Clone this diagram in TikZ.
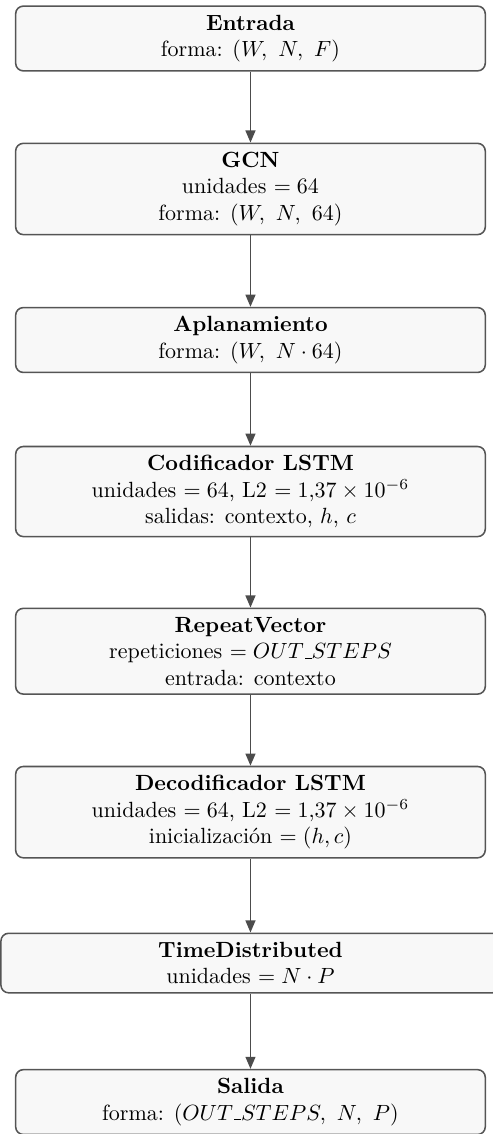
\documentclass[tikz,border=0pt]{standalone}
\usepackage{fontspec}
\usetikzlibrary{arrows.meta}
\definecolor{boxfill}{HTML}{F8F8F8}
\definecolor{boxline}{HTML}{555555}
\newcommand{\usc}{\mbox{\kern.06em\vbox{\hrule width.3em}}}
\begin{document}
\begin{tikzpicture}[
        layer/.style={draw=boxline, fill=boxfill, line width=0.7pt, rounded corners=3.5pt,
            align=center, minimum width=7.5cm, inner sep=4pt},
        flow/.style={draw=boxline!90!black, line width=0.7pt, -{Triangle[length=5.5pt, width=4.5pt]}}
    ]
        \useasboundingbox (-4.0, 0) rectangle (3.873, -18.11);

        \node (entrada) at (0, -0.615) [layer] {\textbf{Entrada}\\ forma: $(W,\ N,\ F)$};
        \node (gcn) at (0, -3.018) [layer] {\textbf{GCN}\\ unidades $= 64$\\ forma: $(W,\ N,\ 64)$};
        \node (aplan) at (0, -5.43) [layer] {\textbf{Aplanamiento}\\ forma: $(W,\ N \cdot 64)$};
        \node (enc) at (0, -7.85) [layer] {\textbf{Codificador LSTM}\\ unidades $= 64$, L2 $= 1{,}37 \times 10^{-6}$\\ salidas: contexto, $h$, $c$};
        \node (rep) at (0, -10.40) [layer] {\textbf{RepeatVector}\\ repeticiones $= OUT\usc STEPS$\\ entrada: contexto};
        \node (dec) at (0, -12.97) [layer] {\textbf{Decodificador LSTM}\\ unidades $= 64$, L2 $= 1{,}37 \times 10^{-6}$\\ inicialización $= (h, c)$};
        \node (td) at (0, -15.38) [layer, minimum width=7.97cm] {\textbf{TimeDistributed}\\ unidades $= N \cdot P$};
        \node (salida) at (0, -17.60) [layer] {\textbf{Salida}\\ forma: $(OUT\usc STEPS,\ N,\ P)$};

        \draw[flow] (entrada) -- (gcn);
        \draw[flow] (gcn) -- (aplan);
        \draw[flow] (aplan) -- (enc);
        \draw[flow] (enc) -- (rep);
        \draw[flow] (rep) -- (dec);
        \draw[flow] (dec) -- (td);
        \draw[flow] (td) -- (salida);
    \end{tikzpicture}
\end{document}
